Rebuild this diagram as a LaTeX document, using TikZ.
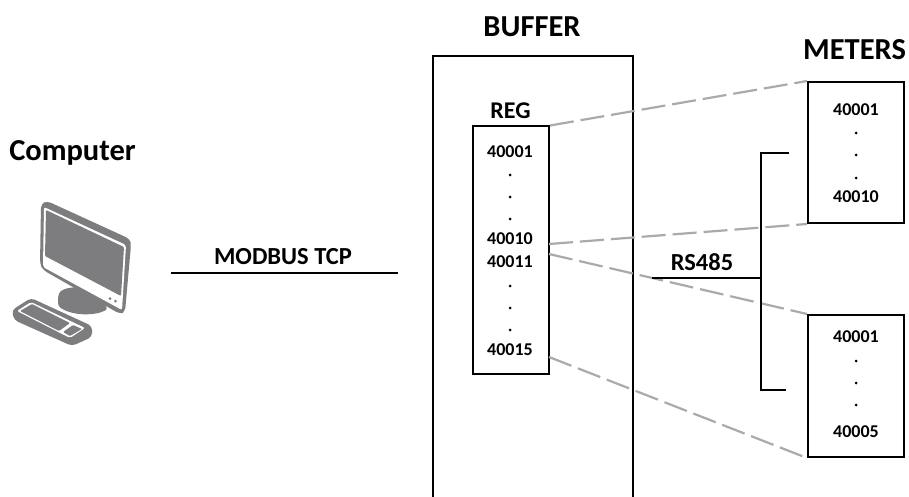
\documentclass[tikz,border=0pt]{standalone}
\usepackage{fontspec}
\setmainfont{Carlito}[BoldFont={Carlito Bold}]
\definecolor{icon}{RGB}{125,125,127}
\definecolor{dash}{RGB}{170,170,170}
\tikzset{
  box/.style={draw=black,line width=2pt,fill=none,inner sep=0pt,rectangle},
  wire/.style={draw=black,line width=2pt},
  link/.style={draw=dash,line width=2.2pt,dash pattern=on 24pt off 7pt},
  big/.style={font=\bfseries\fontsize{30.5}{32}\selectfont,inner sep=0pt},
  mid/.style={font=\bfseries\fontsize{24}{26}\selectfont,inner sep=0pt},
  proto/.style={font=\bfseries\fontsize{24.5}{26}\selectfont,inner sep=0pt},
  num/.style={font=\bfseries\fontsize{18}{20}\selectfont,inner sep=0pt},
  dotm/.style={circle,fill=black,minimum size=3pt,inner sep=0pt},
}
\begin{document}
\begin{tikzpicture}[x=1pt,y=-1pt]
\path[use as bounding box] (0,0) rectangle (909,497);
\clip (0,0) rectangle (909,497);
% labels
\node[big] (lbuf) at (532,27) {BUFFER};
\node[big] (lmet) at (854.500,50) {METERS};
\node[big] (lcom) at (72.500,152.500) {Computer};
\node[mid] (lreg) at (510.500,111) {REG};
\node[proto] (lmod) at (283,257) {MODBUS TCP};
\node[proto] (lrs) at (702,262) {RS485};
% boxes
\coordinate (bufA) at (433,56); \coordinate (bufB) at (633,56);
\draw[wire] (433,500) -- (bufA) -- (bufB) -- (633,500);
\node[box,minimum width=76pt,minimum height=247pt] (reg) at (511,250) {};
\node[box,minimum width=96pt,minimum height=141pt] (m1) at (856,152.500) {};
\node[box,minimum width=96pt,minimum height=142pt] (m2) at (856,386) {};
% dashed links
\draw[link] (reg.north east) -- (m1.north west);
\coordinate (r10) at (549,244); \coordinate (r11) at (549,254); \coordinate (r15) at (549,357);
\draw[link] (r10) -- (m1.south west);
\draw[link] (r11) -- (m2.north west);
\draw[link] (r15) -- (m2.south west);
% bus
\coordinate (bt) at (789,153); \coordinate (bb) at (786,390);
\coordinate (bc) at (761,153); \coordinate (bd) at (761,390);
\coordinate (bm) at (761,278); \coordinate (bl) at (652,278);
\draw[wire] (bt) -- (bc) -- (bd) -- (bb);
\draw[wire] (bl) -- (bm);
\coordinate (ma) at (171,273); \coordinate (mb) at (398,273);
\draw[wire] (ma) -- (mb);
% register text
\node[num] (a1) at (510,151.500) {40001};
\node[dotm] (d1) at (510,175) {};
\node[dotm] (d2) at (510,197) {};
\node[dotm] (d3) at (510,219) {};
\node[num] (a2) at (510,238.500) {40010};
\node[num] (a3) at (510,261.500) {40011};
\node[dotm] (d4) at (510,286) {};
\node[dotm] (d5) at (510,308) {};
\node[dotm] (d6) at (510,330) {};
\node[num] (a4) at (510,349.500) {40015};
\node[num] (b1) at (856,109.500) {40001};
\node[dotm] (e1) at (856,133) {};
\node[dotm] (e2) at (856,155) {};
\node[dotm] (e3) at (856,178) {};
\node[num] (b2) at (856,196.500) {40010};
\node[num] (c1) at (856,336.500) {40001};
\node[dotm] (f1) at (856,361) {};
\node[dotm] (f2) at (856,383) {};
\node[dotm] (f3) at (856,405) {};
\node[num] (c2) at (856,431.500) {40005};
% computer icon
\fill[icon,rounded corners=3pt] (58,296) .. controls (62,287) and (80,285) .. (96,292) -- (108,309) .. controls (95,316) and (72,316) .. (58,306) -- cycle;
\fill[icon,rounded corners=4pt] (41,204) -- (47,201) -- (130,239) -- (131,245) -- (125,312) -- (120,314) -- (43,270) -- (40,264) -- cycle;
\fill[white,rounded corners=2pt] (44,207) -- (126,245) -- (122,310) -- (43,267) -- cycle;
\fill[icon,rounded corners=1pt] (46,210) -- (124,247) -- (121,296) -- (45,256) -- cycle;
\fill[icon] (110,298.500) circle (1.500pt) (115.500,301) circle (1.500pt);
\fill[icon,rounded corners=4pt] (12,310) -- (31,298) -- (92,326) -- (92,337) -- (72,346) -- (14,320) -- cycle;
\fill[white,rounded corners=2pt] (17,311) -- (31,302) -- (85,328) -- (70,338) -- cycle;
\fill[icon,rounded corners=1pt] (20,311) -- (32,304) -- (70,323) -- (59,331) -- cycle;
\fill[icon,rounded corners=1pt] (63,332) -- (73,325) -- (82,329) -- (70,336) -- cycle;
\end{tikzpicture}
\end{document}
